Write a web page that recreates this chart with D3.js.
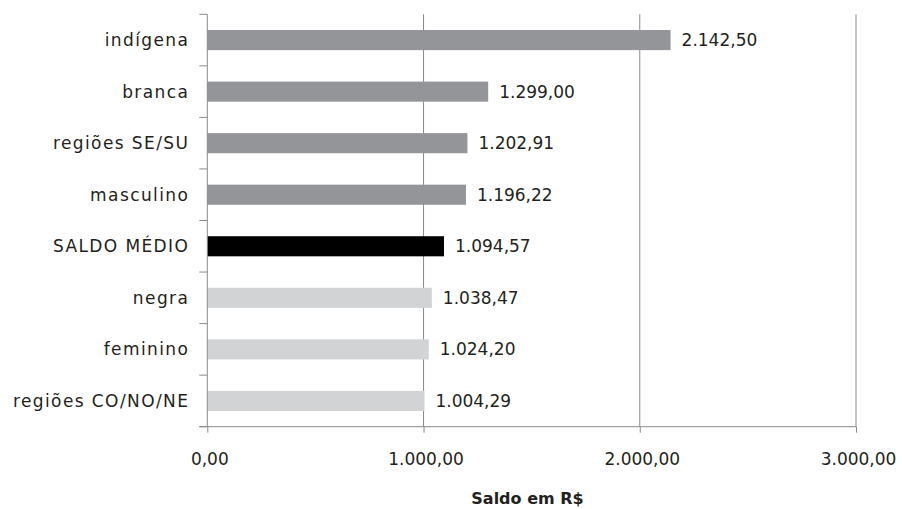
<!DOCTYPE html>
<html>
<head>
<meta charset="utf-8">
<script src="https://cdn.jsdelivr.net/npm/d3@7"></script>
<style>
  html, body { margin: 0; padding: 0; background: #fff; }
  svg { display: block; }
  text { font-family: "DejaVu Sans", "Open Sans", sans-serif; fill: #231f20; }
</style>
</head>
<body>
<svg id="chart" width="902" height="509"></svg>
<script>
// Average balance (R$) by group
const categories = ["indígena", "branca", "regiões SE/SU", "masculino", "SALDO MÉDIO", "negra", "feminino", "regiões CO/NO/NE"];
const values = [2142.50, 1299.00, 1202.91, 1196.22, 1094.57, 1038.47, 1024.20, 1004.29];
const groups = ["acima", "acima", "acima", "acima", "media", "abaixo", "abaixo", "abaixo"];
const xTicks = [0, 1000, 2000, 3000];
const axisTitle = "Saldo em R$";

const fill = { acima: "#939598", media: "#000000", abaixo: "#d1d3d4" };
const axisColor = "#8a8a8c";

const svg = d3.select("#chart");
const plotLeft = 207.3, plotRight = 856, plotTop = 14.3, plotBottom = 426.7;

const fmt = d3.formatLocale({ decimal: ",", thousands: ".", grouping: [3], currency: ["R$", ""] }).format(",.2f");

const x = d3.scaleLinear().domain([0, 3000]).range([plotLeft, plotRight]);
const y = d3.scaleBand().domain(categories).range([plotTop, plotBottom]).paddingInner(0.61).paddingOuter(0.305);

// vertical gridlines
svg.append("g").selectAll("line").data(xTicks.slice(1)).join("line")
  .attr("x1", d => x(d)).attr("x2", d => x(d))
  .attr("y1", plotTop).attr("y2", plotBottom)
  .attr("stroke", axisColor).attr("stroke-width", 1);

// bars
svg.append("g").selectAll("rect").data(categories).join("rect")
  .attr("x", x(0))
  .attr("y", d => y(d))
  .attr("width", (d, i) => x(values[i]) - x(0))
  .attr("height", y.bandwidth())
  .attr("fill", (d, i) => fill[groups[i]]);

// value labels
svg.append("g").selectAll("text").data(categories).join("text")
  .attr("x", (d, i) => x(values[i]) + 11)
  .attr("y", d => y(d) + y.bandwidth() / 2)
  .attr("dy", "0.35em")
  .attr("font-size", 17)
  .text((d, i) => fmt(values[i]));

// left axis with category boundary ticks
const yAxis = svg.append("g");
yAxis.append("line")
  .attr("x1", plotLeft).attr("x2", plotLeft).attr("y1", plotTop).attr("y2", plotBottom)
  .attr("stroke", axisColor);
const step = (plotBottom - plotTop) / categories.length;
yAxis.selectAll("line.tk").data(d3.range(categories.length + 1)).join("line")
  .attr("class", "tk")
  .attr("x1", plotLeft - 8).attr("x2", plotLeft)
  .attr("y1", i => plotTop + i * step).attr("y2", i => plotTop + i * step)
  .attr("stroke", axisColor);
yAxis.selectAll("text").data(categories).join("text")
  .attr("x", plotLeft - 18)
  .attr("y", d => y(d) + y.bandwidth() / 2)
  .attr("dy", "0.35em")
  .attr("text-anchor", "end")
  .attr("font-size", 17)
  .attr("letter-spacing", 1.4)
  .text(d => d);

// bottom axis
const xAxis = svg.append("g").attr("transform", `translate(0,${plotBottom})`)
  .call(d3.axisBottom(x).tickValues(xTicks).tickSize(6).tickPadding(20).tickFormat(fmt));
xAxis.select(".domain").attr("stroke", axisColor).attr("d", `M${plotLeft - 8},0H${plotRight}`);
xAxis.selectAll(".tick line").attr("stroke", axisColor);
xAxis.selectAll(".tick text")
  .attr("x", 2)
  .attr("font-size", 17).attr("fill", "#231f20")
  .style("font-family", "'DejaVu Sans', sans-serif");

// axis title
svg.append("text")
  .attr("x", 527.5)
  .attr("y", 504)
  .attr("text-anchor", "middle")
  .attr("font-size", 16)
  .attr("font-weight", "bold")
  .text(axisTitle);
</script>
</body>
</html>
